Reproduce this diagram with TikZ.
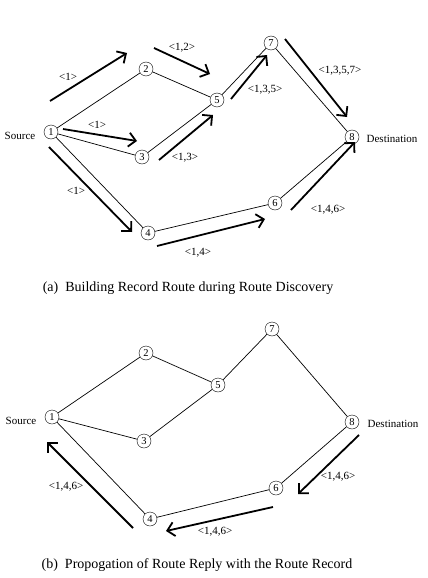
\documentclass[tikz,border=0pt]{standalone}
\usepackage{fontspec}
\setmainfont{Liberation Serif}
\usetikzlibrary{arrows.meta}

\begin{document}
\begin{tikzpicture}[x=1pt, y=-1pt,
        every node/.style={font=\fontsize{11}{13}\selectfont},
        host/.style={draw, circle, inner sep=0pt, minimum size=14pt,
                     font=\fontsize{10.5}{12}\selectfont},
        link/.style={line width=0.7pt},
        route/.style={-{Straight Barb[length=7pt, width=14pt]}, line width=1.8pt}]
      \useasboundingbox (0,0) rectangle (428,578);
      % (a) route request
      \node[host] (A1) at (51,132) {1};
      \node[host] (A2) at (146,69) {2};
      \node[host] (A3) at (142,157) {3};
      \node[host] (A4) at (148,233) {4};
      \node[host] (A5) at (217,100) {5};
      \node[host] (A6) at (275,203) {6};
      \node[host] (A7) at (271,43) {7};
      \node[host] (A8) at (352,137) {8};
      \node at (20,136) {Source};
      \node at (392,139) {Destination};
      \draw[link] (A1) -- (A2) -- (A5) -- (A7) -- (A8);
      \draw[link] (A1) -- (A3) -- (A5);
      \draw[link] (A1) -- (A4) -- (A6) -- (A8);
      \coordinate (a12s) at (50,101);  \coordinate (a12e) at (127,53);
      \coordinate (a25s) at (154,48);  \coordinate (a25e) at (210,74);
      \coordinate (a13s) at (63,129);  \coordinate (a13e) at (137,141);
      \coordinate (a35s) at (159,160); \coordinate (a35e) at (213,115);
      \coordinate (a14s) at (49,147);  \coordinate (a14e) at (132,232);
      \coordinate (a46s) at (157,246); \coordinate (a46e) at (265,219);
      \coordinate (a57s) at (231,99);  \coordinate (a57e) at (267,55);
      \coordinate (a78s) at (285,39);  \coordinate (a78e) at (347,117);
      \coordinate (a68s) at (291,210); \coordinate (a68e) at (355,142);
      \draw[route] (a12s) -- (a12e);
      \draw[route] (a25s) -- (a25e);
      \draw[route] (a13s) -- (a13e);
      \draw[route] (a35s) -- (a35e);
      \draw[route] (a14s) -- (a14e);
      \draw[route] (a46s) -- (a46e);
      \draw[route] (a57s) -- (a57e);
      \draw[route] (a78s) -- (a78e);
      \draw[route] (a68s) -- (a68e);
      \node at (68,77) {<1>};
      \node at (182,48) {<1,2>};
      \node at (97,125) {<1>};
      \node at (185,158) {<1,3>};
      \node at (76,191) {<1>};
      \node at (198,253) {<1,4>};
      \node at (265,90) {<1,3,5>};
      \node at (340,71) {<1,3,5,7>};
      \node at (328,210) {<1,4,6>};
      \node[font=\fontsize{14}{16}\selectfont] at (188,288)
        {(a)\ \ Building Record Route during Route Discovery};
      % (b) route reply
      \node[host] (B1) at (52,417) {1};
      \node[host] (B2) at (146,353) {2};
      \node[host] (B3) at (144,441) {3};
      \node[host] (B4) at (150,519) {4};
      \node[host] (B5) at (218,385) {5};
      \node[host] (B6) at (276,488) {6};
      \node[host] (B7) at (272,329) {7};
      \node[host] (B8) at (352,422) {8};
      \node at (21,421) {Source};
      \node at (393,424) {Destination};
      \draw[link] (B1) -- (B2) -- (B5) -- (B7) -- (B8);
      \draw[link] (B1) -- (B3) -- (B5);
      \draw[link] (B1) -- (B4) -- (B6) -- (B8);
      \coordinate (b86s) at (359,435); \coordinate (b86e) at (298,494);
      \coordinate (b64s) at (273,507); \coordinate (b64e) at (166,531);
      \coordinate (b41s) at (133,528); \coordinate (b41e) at (47,442);
      \draw[route] (b86s) -- (b86e);
      \draw[route] (b64s) -- (b64e);
      \draw[route] (b41s) -- (b41e);
      \node at (338,477) {<1,4,6>};
      \node at (215,532) {<1,4,6>};
      \node at (66,487) {<1,4,6>};
      \node[font=\fontsize{14}{16}\selectfont] at (197,565)
        {(b)\ \ Propogation of Route Reply with the Route Record};
    \end{tikzpicture}
\end{document}
